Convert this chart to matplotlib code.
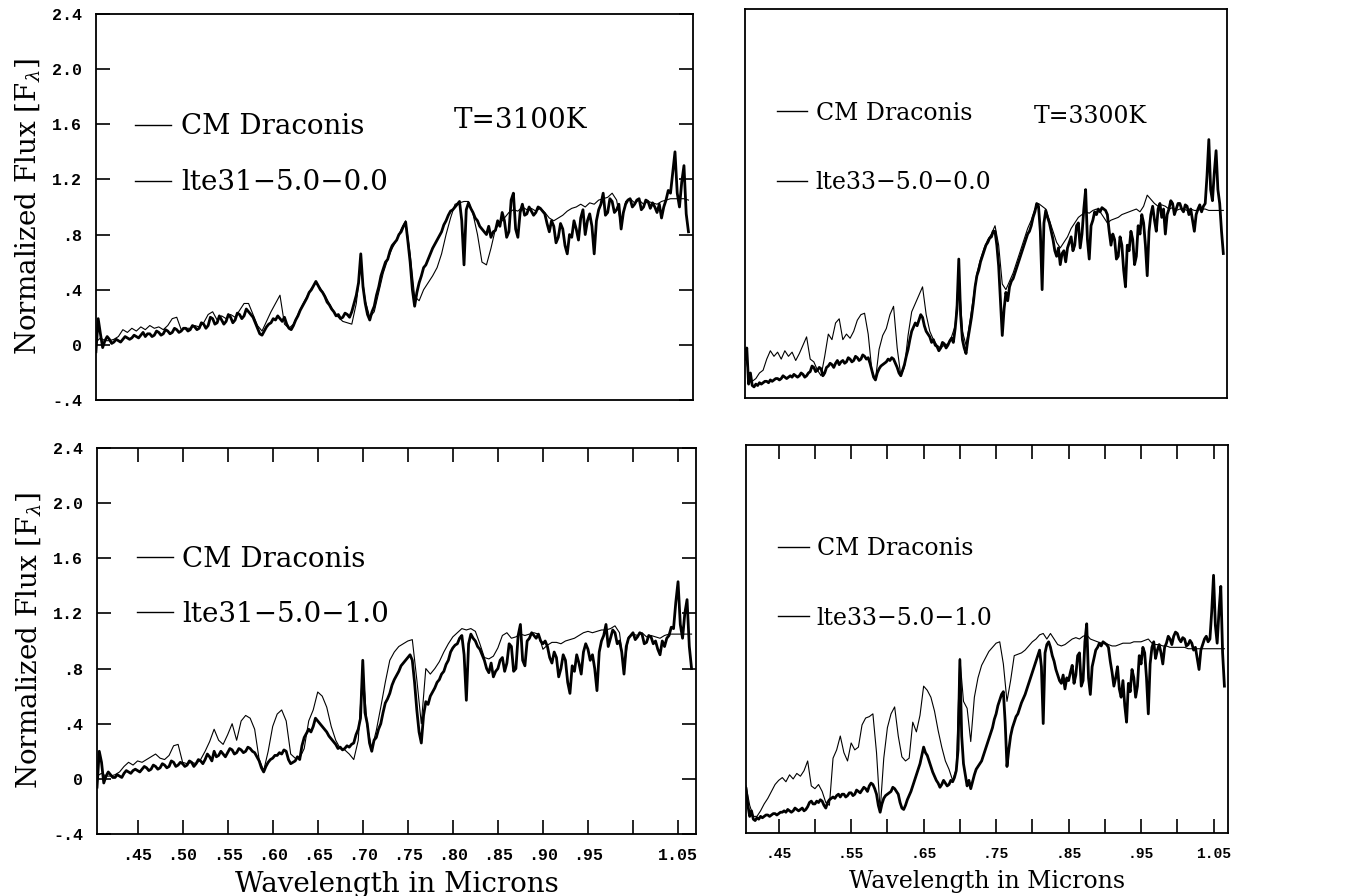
# CM Draconis 光谱与 LTE 模型对比（四幅）
import numpy as np
import matplotlib
matplotlib.use('Agg')
import matplotlib.pyplot as plt
from matplotlib.lines import Line2D

# 波长网格（微米）：观测谱更密，模型谱较疏
wave_obs = np.round(np.arange(0.405, 1.06501, 0.0025), 4)
wave_mod = np.round(np.arange(0.405, 1.0651, 0.005), 3)

# 左列：观测谱按 3100K 模型归一
obs_3100_a = [
    -0.05, 0.19, 0.08, -0.02, 0.03, 0.06, 0.04, 0.01, 0.02, 0.04, 0.03, 0.02, 0.04, 0.06, 0.05, 0.04, 0.05, 0.07, 0.06, 0.05,
    0.07, 0.09, 0.06, 0.08, 0.08, 0.06, 0.07, 0.10, 0.09, 0.07, 0.08, 0.11, 0.10, 0.08, 0.09, 0.12, 0.11, 0.09, 0.10, 0.12,
    0.12, 0.10, 0.11, 0.14, 0.13, 0.11, 0.12, 0.16, 0.15, 0.12, 0.14, 0.20, 0.19, 0.15, 0.16, 0.21, 0.18, 0.15, 0.17, 0.22,
    0.20, 0.16, 0.18, 0.23, 0.22, 0.19, 0.21, 0.26, 0.24, 0.22, 0.20, 0.16, 0.12, 0.08, 0.07, 0.10, 0.13, 0.15, 0.16, 0.19,
    0.18, 0.21, 0.19, 0.17, 0.20, 0.15, 0.12, 0.11, 0.14, 0.18, 0.21, 0.25, 0.28, 0.31, 0.34, 0.38, 0.40, 0.43, 0.46, 0.43,
    0.40, 0.38, 0.35, 0.31, 0.29, 0.26, 0.24, 0.21, 0.22, 0.19, 0.20, 0.23, 0.22, 0.20, 0.24, 0.30, 0.36, 0.45, 0.66, 0.42,
    0.30, 0.22, 0.18, 0.24, 0.28, 0.36, 0.42, 0.50, 0.55, 0.60, 0.62, 0.68, 0.72, 0.74, 0.76, 0.80, 0.82, 0.86, 0.89, 0.75,
    0.60, 0.40, 0.28, 0.38, 0.45, 0.50, 0.56, 0.58, 0.62, 0.66, 0.70, 0.73, 0.76, 0.79, 0.82, 0.87, 0.90, 0.94, 0.97, 0.98,
    1.00, 1.02, 1.04, 0.90, 0.58, 0.98, 1.03, 0.99, 0.96, 0.92, 0.90, 0.86, 0.84, 0.82, 0.80, 0.86, 0.78, 0.82, 0.83, 0.90,
    0.86, 0.96, 0.90, 0.78, 0.82, 1.05, 1.10, 0.84, 0.78, 0.96, 1.02, 0.94, 0.95, 1.00, 0.97, 0.94, 0.96, 1.00, 0.99, 0.97,
    0.95, 0.88, 0.82, 0.90, 0.86, 0.74, 0.78, 0.88, 0.84, 0.72, 0.66, 0.80, 0.78, 0.90, 0.84, 0.76, 0.92, 0.98, 0.80, 0.90,
    0.95, 0.86, 0.66, 0.90, 0.98, 1.02, 1.10, 0.94, 0.96, 1.06, 1.04, 0.96, 0.98, 1.02, 0.84, 0.96, 1.02, 1.05, 1.06, 1.00,
    1.02, 1.05, 1.06, 0.98, 1.00, 1.05, 1.04, 0.99, 1.03, 1.00, 0.96, 1.02, 0.92, 1.00, 1.05, 1.12, 1.10, 1.25, 1.40, 1.10,
    1.00, 1.18, 1.30, 0.95, 0.82,
]
lte31_00 = [
    0.02, 0.05, 0.03, 0.03, 0.04, 0.06, 0.11, 0.09, 0.12, 0.10,
    0.13, 0.11, 0.14, 0.12, 0.13, 0.11, 0.14, 0.19, 0.20, 0.11,
    0.12, 0.12, 0.14, 0.13, 0.16, 0.22, 0.24, 0.18, 0.21, 0.19,
    0.22, 0.20, 0.25, 0.30, 0.30, 0.22, 0.14, 0.10, 0.17, 0.24,
    0.30, 0.36, 0.15, 0.12, 0.15, 0.22, 0.29, 0.35, 0.41, 0.45,
    0.41, 0.36, 0.30, 0.24, 0.20, 0.17, 0.16, 0.15, 0.30, 0.58,
    0.32, 0.20, 0.24, 0.38, 0.52, 0.62, 0.70, 0.76, 0.84, 0.90,
    0.66, 0.35, 0.32, 0.40, 0.45, 0.50, 0.56, 0.66, 0.80, 0.92,
    1.02, 1.03, 1.04, 1.04, 0.95, 0.80, 0.60, 0.58, 0.70, 0.84,
    0.88, 0.92, 0.96, 0.98, 0.97, 1.00, 0.98, 0.99, 0.97, 0.99,
    0.96, 0.92, 0.90, 0.92, 0.94, 0.97, 0.99, 1.00, 1.02, 1.00,
    1.03, 1.02, 1.05, 1.06, 1.07, 1.10, 1.05, 0.86, 1.04, 1.06,
    1.03, 1.05, 1.02, 1.04, 1.03, 1.02, 1.04, 1.05, 1.06, 1.06,
    1.06, 1.06, 1.05,
]
obs_3100_b = [
    -0.06, 0.20, 0.12, -0.03, 0.02, 0.05, 0.03, 0.01, 0.01, 0.03, 0.02, 0.01, 0.04, 0.06, 0.05, 0.04, 0.06, 0.07, 0.06, 0.05,
    0.07, 0.09, 0.08, 0.06, 0.07, 0.10, 0.09, 0.07, 0.08, 0.11, 0.10, 0.08, 0.09, 0.13, 0.12, 0.09, 0.10, 0.12, 0.11, 0.09,
    0.10, 0.13, 0.12, 0.09, 0.11, 0.14, 0.13, 0.11, 0.14, 0.18, 0.16, 0.13, 0.20, 0.16, 0.17, 0.20, 0.18, 0.16, 0.19, 0.22,
    0.21, 0.18, 0.19, 0.22, 0.21, 0.19, 0.20, 0.23, 0.22, 0.20, 0.19, 0.16, 0.13, 0.08, 0.05, 0.09, 0.12, 0.14, 0.15, 0.17,
    0.17, 0.19, 0.18, 0.21, 0.20, 0.14, 0.11, 0.12, 0.13, 0.16, 0.14, 0.24, 0.30, 0.33, 0.36, 0.34, 0.38, 0.44, 0.42, 0.40,
    0.38, 0.36, 0.34, 0.31, 0.29, 0.27, 0.25, 0.22, 0.23, 0.21, 0.22, 0.24, 0.23, 0.25, 0.26, 0.32, 0.36, 0.44, 0.86, 0.48,
    0.40, 0.26, 0.20, 0.28, 0.30, 0.36, 0.40, 0.48, 0.55, 0.58, 0.62, 0.68, 0.72, 0.75, 0.78, 0.82, 0.84, 0.86, 0.88, 0.90,
    0.86, 0.70, 0.50, 0.34, 0.26, 0.46, 0.56, 0.54, 0.60, 0.63, 0.66, 0.70, 0.72, 0.76, 0.78, 0.83, 0.86, 0.92, 0.95, 0.97,
    0.98, 1.02, 1.04, 0.90, 0.57, 0.98, 1.05, 1.02, 1.00, 0.96, 0.94, 0.90, 0.86, 0.80, 0.77, 0.84, 0.74, 0.78, 0.80, 0.86,
    0.88, 0.78, 0.84, 0.98, 0.96, 0.78, 0.80, 1.04, 1.12, 0.86, 0.82, 1.00, 1.02, 1.06, 1.04, 1.02, 1.05, 1.00, 0.98, 1.00,
    0.96, 0.88, 0.84, 0.92, 0.88, 0.74, 0.80, 0.90, 0.86, 0.70, 0.62, 0.82, 0.78, 0.90, 0.84, 0.76, 0.92, 0.98, 0.94, 0.86,
    0.90, 0.80, 0.64, 0.92, 1.00, 1.04, 1.12, 0.96, 1.02, 1.08, 1.06, 0.98, 1.00, 0.92, 0.76, 0.96, 1.02, 1.04, 1.06, 1.01,
    1.03, 1.06, 1.05, 0.98, 0.99, 1.04, 1.03, 0.98, 1.00, 0.94, 0.90, 1.00, 0.96, 1.02, 1.04, 1.10, 1.09, 1.28, 1.43, 1.12,
    1.02, 1.20, 1.30, 0.96, 0.80,
]
lte31_10 = [
    0.02, 0.04, 0.02, 0.02, 0.03, 0.05, 0.09, 0.12, 0.10, 0.13,
    0.12, 0.14, 0.16, 0.18, 0.15, 0.14, 0.17, 0.24, 0.25, 0.12,
    0.11, 0.12, 0.11, 0.14, 0.20, 0.27, 0.36, 0.28, 0.25, 0.32,
    0.40, 0.28, 0.42, 0.46, 0.44, 0.36, 0.14, 0.06, 0.20, 0.38,
    0.47, 0.50, 0.42, 0.18, 0.15, 0.15, 0.22, 0.42, 0.50, 0.63,
    0.60, 0.52, 0.38, 0.28, 0.22, 0.21, 0.18, 0.14, 0.28, 0.80,
    0.38, 0.22, 0.35, 0.52, 0.70, 0.86, 0.92, 0.96, 0.98, 1.00,
    1.01, 0.72, 0.40, 0.80, 0.76, 0.80, 0.85, 0.92, 0.98, 1.03,
    1.06, 1.09, 1.08, 1.09, 1.07, 0.98, 0.88, 0.87, 0.89, 0.95,
    1.04, 1.06, 1.02, 1.03, 1.05, 1.04, 1.05, 1.06, 1.05, 0.94,
    0.97, 0.99, 0.99, 0.98, 1.00, 1.01, 1.02, 1.04, 1.06, 1.07,
    1.06, 1.07, 1.08, 1.08, 1.09, 1.11, 1.06, 0.80, 1.03, 1.05,
    1.04, 1.06, 1.03, 1.04, 1.03, 1.02, 1.04, 1.05, 1.05, 1.05,
    1.05, 1.05, 1.05,
]

# 右列：观测谱按 3300K 模型归一
obs_3300_a = [
    -0.12, -0.04, -0.30, -0.22, -0.31, -0.32, -0.30, -0.31, -0.29, -0.30, -0.29, -0.28, -0.28, -0.29, -0.27, -0.28, -0.27, -0.26, -0.26, -0.27,
    -0.26, -0.24, -0.25, -0.26, -0.25, -0.24, -0.25, -0.23, -0.24, -0.25, -0.24, -0.22, -0.23, -0.25, -0.24, -0.22, -0.21, -0.17, -0.18, -0.21,
    -0.20, -0.18, -0.19, -0.24, -0.22, -0.18, -0.17, -0.15, -0.16, -0.18, -0.15, -0.13, -0.16, -0.14, -0.13, -0.15, -0.14, -0.11, -0.12, -0.14,
    -0.13, -0.10, -0.11, -0.13, -0.12, -0.09, -0.10, -0.12, -0.11, -0.15, -0.20, -0.25, -0.27, -0.22, -0.19, -0.17, -0.16, -0.15, -0.14, -0.12,
    -0.13, -0.11, -0.12, -0.15, -0.18, -0.22, -0.24, -0.20, -0.16, -0.10, -0.05, 0.02, 0.08, 0.11, 0.14, 0.12, 0.16, 0.20, 0.18, 0.12,
    0.08, 0.06, 0.04, 0.00, 0.02, -0.02, -0.03, -0.06, -0.04, 0.00, -0.01, -0.04, -0.02, 0.01, 0.03, 0.00, 0.10, 0.24, 0.60, 0.20,
    0.02, -0.04, -0.08, 0.02, 0.10, 0.18, 0.28, 0.40, 0.48, 0.52, 0.58, 0.62, 0.66, 0.70, 0.72, 0.75, 0.76, 0.80, 0.80, 0.70,
    0.55, 0.30, 0.05, 0.24, 0.36, 0.30, 0.40, 0.44, 0.46, 0.50, 0.54, 0.58, 0.62, 0.66, 0.70, 0.74, 0.78, 0.80, 0.84, 0.90,
    0.94, 1.00, 0.98, 0.80, 0.38, 0.86, 0.95, 0.90, 0.86, 0.80, 0.74, 0.66, 0.62, 0.68, 0.56, 0.64, 0.66, 0.58, 0.68, 0.72,
    0.76, 0.66, 0.70, 0.84, 0.86, 0.68, 0.78, 0.96, 1.10, 0.74, 0.60, 0.84, 0.88, 0.94, 0.92, 0.96, 0.94, 0.97, 0.96, 0.95,
    0.92, 0.80, 0.70, 0.78, 0.74, 0.60, 0.62, 0.76, 0.70, 0.52, 0.40, 0.70, 0.66, 0.80, 0.74, 0.56, 0.62, 0.84, 0.78, 0.92,
    0.86, 0.70, 0.48, 0.80, 0.92, 0.98, 0.88, 0.80, 0.96, 1.00, 0.90, 0.96, 0.78, 0.92, 0.96, 1.02, 1.00, 0.92, 0.96, 1.00,
    1.00, 0.96, 0.94, 0.99, 0.98, 0.92, 0.96, 0.88, 0.80, 0.92, 0.96, 0.99, 0.94, 0.98, 1.00, 1.20, 1.46, 1.10, 1.02, 1.22,
    1.38, 1.10, 1.00, 0.80, 0.64,
]
lte33_00 = [
    -0.08, -0.22, -0.28, -0.26, -0.22, -0.20, -0.12, -0.06, -0.10, -0.07,
    -0.12, -0.06, -0.10, -0.07, -0.13, -0.08, -0.02, 0.04, -0.12, -0.14,
    -0.20, -0.24, -0.10, 0.06, 0.02, 0.14, 0.17, 0.02, 0.06, 0.03,
    0.08, 0.16, 0.20, 0.21, 0.06, -0.20, -0.27, -0.05, 0.05, 0.10,
    0.20, 0.26, -0.04, -0.24, -0.18, 0.05, 0.22, 0.28, 0.34, 0.40,
    0.20, 0.08, 0.02, -0.02, -0.04, -0.02, -0.01, 0.04, 0.12, 0.50,
    0.08, -0.02, 0.14, 0.32, 0.50, 0.60, 0.68, 0.74, 0.78, 0.84,
    0.70, 0.42, 0.38, 0.44, 0.50, 0.58, 0.66, 0.74, 0.82, 0.88,
    0.96, 1.00, 0.98, 0.96, 0.88, 0.80, 0.72, 0.68, 0.72, 0.76,
    0.82, 0.86, 0.90, 0.92, 0.94, 0.93, 0.95, 0.96, 0.94, 0.90,
    0.86, 0.88, 0.89, 0.90, 0.92, 0.93, 0.94, 0.95, 0.96, 0.94,
    0.98, 1.06, 1.03, 1.00, 0.98, 0.99, 0.98, 0.96, 0.97, 0.95,
    0.96, 0.96, 0.95, 0.96, 0.95, 0.95, 0.96, 0.96, 0.95, 0.95,
    0.95, 0.95, 0.95,
]
obs_3300_b = [
    -0.08, -0.20, -0.28, -0.24, -0.30, -0.31, -0.29, -0.30, -0.28, -0.29, -0.28, -0.27, -0.27, -0.28, -0.27, -0.26, -0.26, -0.27, -0.26, -0.25,
    -0.25, -0.24, -0.25, -0.23, -0.24, -0.25, -0.24, -0.22, -0.23, -0.24, -0.23, -0.22, -0.24, -0.23, -0.21, -0.18, -0.17, -0.19, -0.19, -0.17,
    -0.18, -0.16, -0.17, -0.20, -0.22, -0.18, -0.16, -0.15, -0.14, -0.15, -0.13, -0.12, -0.14, -0.12, -0.12, -0.14, -0.13, -0.11, -0.11, -0.13,
    -0.12, -0.09, -0.10, -0.11, -0.09, -0.07, -0.08, -0.10, -0.06, -0.04, -0.05, -0.08, -0.12, -0.20, -0.25, -0.19, -0.15, -0.13, -0.12, -0.11,
    -0.10, -0.07, -0.08, -0.10, -0.12, -0.18, -0.22, -0.23, -0.20, -0.16, -0.13, -0.10, -0.06, -0.02, 0.02, 0.06, 0.10, 0.16, 0.22, 0.18,
    0.16, 0.12, 0.08, 0.04, 0.01, -0.02, -0.04, -0.07, -0.05, -0.02, -0.04, -0.06, -0.05, -0.02, -0.03, 0.00, 0.05, 0.20, 0.85, 0.30,
    0.10, 0.02, -0.06, -0.02, -0.08, -0.03, 0.02, 0.06, 0.08, 0.10, 0.12, 0.16, 0.20, 0.24, 0.28, 0.32, 0.36, 0.42, 0.46, 0.52,
    0.56, 0.60, 0.62, 0.40, 0.08, 0.20, 0.30, 0.36, 0.40, 0.44, 0.46, 0.50, 0.54, 0.57, 0.60, 0.64, 0.68, 0.72, 0.76, 0.80,
    0.84, 0.88, 0.92, 0.80, 0.39, 0.90, 0.96, 0.98, 0.94, 0.88, 0.84, 0.78, 0.74, 0.70, 0.68, 0.74, 0.64, 0.72, 0.70, 0.76,
    0.81, 0.68, 0.74, 0.88, 0.90, 0.66, 0.70, 0.98, 1.11, 0.72, 0.60, 0.80, 0.86, 0.92, 0.94, 0.97, 0.95, 0.98, 0.97, 0.96,
    0.94, 0.84, 0.76, 0.66, 0.72, 0.80, 0.64, 0.58, 0.70, 0.52, 0.40, 0.68, 0.62, 0.78, 0.72, 0.58, 0.66, 0.88, 0.82, 0.94,
    0.90, 0.72, 0.46, 0.82, 0.94, 0.98, 0.86, 0.92, 0.96, 0.90, 0.82, 0.94, 0.97, 1.02, 1.00, 0.96, 1.02, 1.05, 1.04, 1.00,
    0.98, 1.01, 1.00, 0.95, 0.96, 0.99, 0.97, 0.92, 0.94, 0.86, 0.78, 0.92, 0.96, 1.00, 1.02, 0.98, 1.00, 1.20, 1.46, 1.10,
    0.97, 1.20, 1.38, 0.90, 0.66,
]
lte33_10 = [
    -0.06, -0.20, -0.28, -0.28, -0.24, -0.19, -0.15, -0.10, -0.05, -0.02,
    0.00, -0.03, 0.02, -0.01, 0.03, 0.01, 0.05, 0.12, -0.06, -0.08,
    -0.05, -0.10, -0.18, -0.20, 0.14, 0.20, 0.30, 0.18, 0.12, 0.25,
    0.20, 0.22, 0.38, 0.43, 0.44, 0.46, 0.18, -0.24, 0.14, 0.36,
    0.46, 0.51, 0.30, 0.15, 0.12, 0.14, 0.40, 0.33, 0.45, 0.66,
    0.63, 0.58, 0.48, 0.34, 0.22, 0.12, 0.06, -0.02, 0.06, 0.86,
    0.55, 0.50, 0.26, 0.58, 0.72, 0.81, 0.86, 0.91, 0.94, 0.97,
    0.98, 0.82, 0.55, 0.70, 0.88, 0.89, 0.90, 0.92, 0.95, 0.98,
    1.00, 1.03, 1.04, 1.00, 1.04, 1.00, 0.96, 0.95, 0.96, 0.98,
    1.00, 1.01, 1.00, 1.02, 1.03, 1.00, 0.99, 0.98, 0.97, 0.97,
    0.96, 0.95, 0.95, 0.96, 0.97, 0.97, 0.97, 0.98, 0.98, 0.98,
    0.99, 1.00, 0.97, 0.96, 0.96, 0.95, 0.95, 0.94, 0.94, 0.94,
    0.94, 0.94, 0.93, 0.93, 0.93, 0.93, 0.93, 0.93, 0.93, 0.93,
    0.93, 0.93, 0.93,
]

# 坐标刻度
y_ticks = [-0.4, 0.0, 0.4, 0.8, 1.2, 1.6, 2.0, 2.4]
y_tick_labels = ['-.4', '0', '.4', '.8', '1.2', '1.6', '2.0', '2.4']
x_ticks = [0.45, 0.50, 0.55, 0.60, 0.65, 0.70, 0.75, 0.80, 0.85, 0.90, 0.95, 1.00, 1.05]
x_labels_left = ['.45', '.50', '.55', '.60', '.65', '.70', '.75', '.80', '.85', '.90', '.95', '', '1.05']
x_labels_right = ['.45', '', '.55', '', '.65', '', '.75', '', '.85', '', '.95', '', '1.05']

TICK_FONT = dict(family='Liberation Mono', weight='bold')


def draw_panel(fig, rect, obs, model, names, temp, fs, legend_y, legend_gap, left, bottom):
    ax = fig.add_axes(rect)
    ax.plot(wave_obs, obs, color='black', lw=2.0)
    ax.plot(wave_mod, model, color='black', lw=0.8)
    ax.set_xlim(0.405, 1.07)
    ax.set_ylim(-0.4, 2.4)
    for s in ax.spines.values():
        s.set_linewidth(1.3)

    tick_fs = 12 if left else 10.5
    if left:
        ax.set_yticks(y_ticks)
        ax.set_yticklabels(y_tick_labels, fontsize=tick_fs, **TICK_FONT)
        ax.tick_params(axis='y', direction='in', length=10, width=1.2, right=True, pad=10)
        ax.set_ylabel(r'Normalized Flux [F$_\lambda$]', fontsize=20)
        ax.yaxis.set_label_coords(-0.09, 0.5)
    else:
        ax.set_yticks([])
    if bottom:
        ax.set_xticks(x_ticks)
        ax.set_xticklabels(x_labels_left if left else x_labels_right,
                           fontsize=tick_fs, **TICK_FONT)
        ax.tick_params(axis='x', direction='in', length=10, width=1.2, top=True, pad=10)
        ax.set_xlabel('Wavelength in Microns', fontsize=fs)
        ax.xaxis.set_label_coords(0.5, -0.096)
    else:
        ax.set_xticks([])

    handles = [Line2D([], [], color='black', lw=1.0) for _ in names]
    ax.legend(handles, names, loc='center left', bbox_to_anchor=(0.066, legend_y),
              frameon=False, fontsize=fs, handlelength=1.3, handletextpad=0.35,
              labelspacing=legend_gap, borderpad=0, borderaxespad=0)
    if temp:
        ax.text(0.60, 0.723, temp, transform=ax.transAxes, va='center', fontsize=fs)
    return ax


if __name__ == "__main__":
    plt.rcParams['font.family'] = 'DejaVu Serif'
    plt.rcParams['mathtext.fontset'] = 'dejavuserif'

    fig = plt.figure(figsize=(13.55, 8.96), dpi=100)
    draw_panel(fig, [0.0708, 0.5536, 0.4406, 0.4308], obs_3100_a, lte31_00,
               ['CM Draconis', 'lte31\u22125.0\u22120.0'], 'T=3100K', 20, 0.635, 1.04, True, False)
    draw_panel(fig, [0.5498, 0.5558, 0.3557, 0.4342], obs_3300_a, lte33_00,
               ['CM Draconis', 'lte33\u22125.0\u22120.0'], 'T=3300K', 17, 0.643, 1.97, False, False)
    draw_panel(fig, [0.0716, 0.0692, 0.4421, 0.4308], obs_3100_b, lte31_10,
               ['CM Draconis', 'lte31\u22125.0\u22121.0'], None, 20, 0.640, 1.01, True, True)
    draw_panel(fig, [0.5506, 0.0703, 0.3557, 0.4330], obs_3300_b, lte33_10,
               ['CM Draconis', 'lte33\u22125.0\u22121.0'], None, 17, 0.643, 1.96, False, True)
    fig.savefig('out.png', dpi=100, facecolor='white')
